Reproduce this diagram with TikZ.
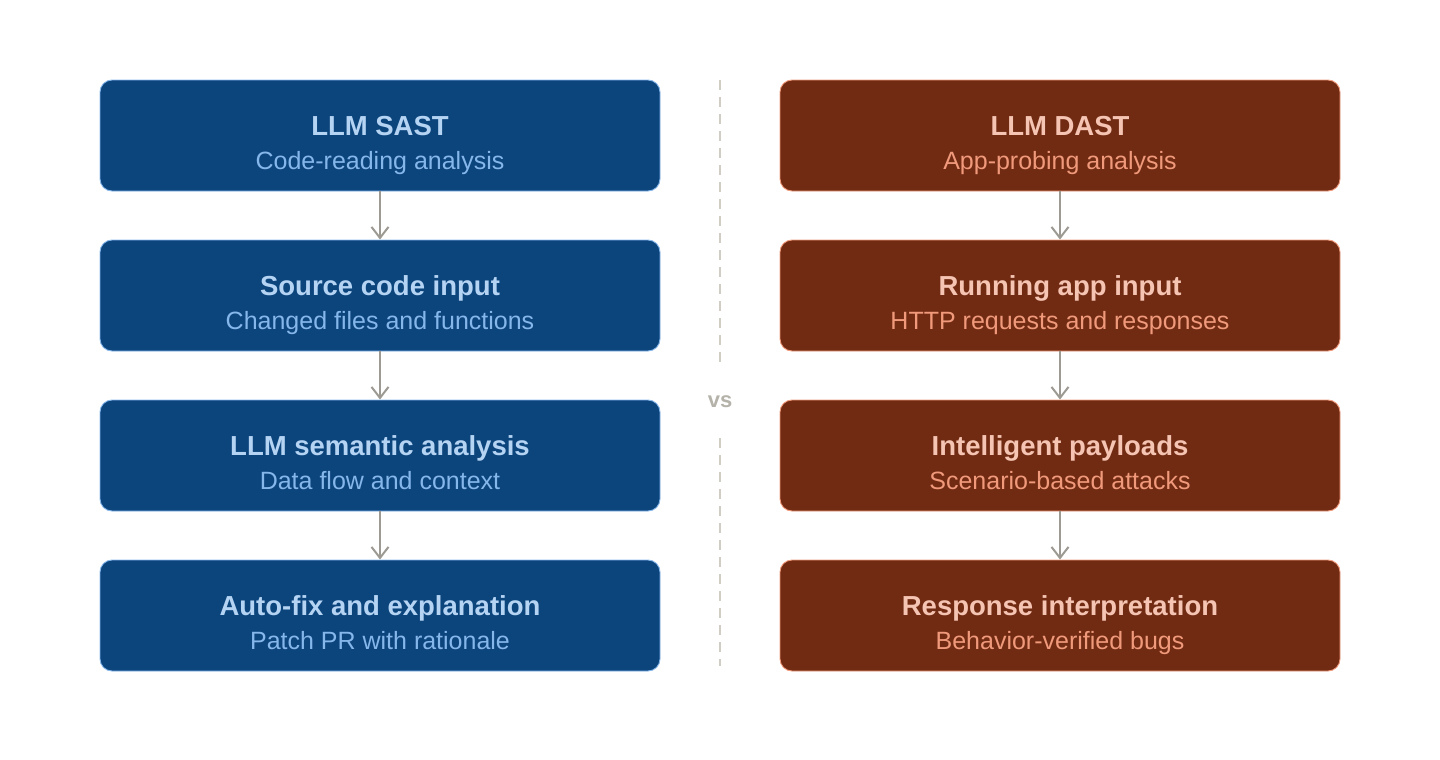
\documentclass[tikz,border=0pt]{standalone}
\usepackage{fontspec}
\setmainfont{Liberation Sans}
\usetikzlibrary{arrows.meta}
\definecolor{bfill}{HTML}{0C447C}
\definecolor{bline}{HTML}{85B7EB}
\definecolor{btitle}{HTML}{B5D4F4}
\definecolor{bsub}{HTML}{85B7EB}
\definecolor{rfill}{HTML}{712B13}
\definecolor{rline}{HTML}{F0997B}
\definecolor{rtitle}{HTML}{F5C4B3}
\definecolor{rsub}{HTML}{F0997B}
\definecolor{arrowc}{HTML}{9C9A92}
\definecolor{sepc}{HTML}{CFCDC4}
\definecolor{vsc}{HTML}{B4B2A9}
\tikzset{
  box/.style={rounded corners=12pt, minimum width=560pt, minimum height=111pt, line width=0.9pt, inner sep=0pt},
  bluebox/.style={box, fill=bfill, draw=bline},
  redbox/.style={box, fill=rfill, draw=rline},
  ttl/.style={font=\fontsize{27.5}{32}\selectfont\bfseries},
  sub/.style={font=\fontsize{25}{30}\selectfont},
  flow/.style={draw=arrowc, line width=2pt, -{Straight Barb[length=11pt,width=17pt,line width=2pt]}},
  sep/.style={draw=sepc, line width=1.2pt, dash pattern=on 10pt off 7pt},
}
\begin{document}
\begin{tikzpicture}[x=1pt,y=-1pt]
\useasboundingbox (0,0) rectangle (1440,760);
% left column
\foreach \n/\y/\t/\s in {a1/135.5/LLM SAST/Code-reading analysis, a2/295.5/Source code input/Changed files and functions, a3/455.5/LLM semantic analysis/Data flow and context, a4/615.5/Auto-fix and explanation/Patch PR with rationale}{
  \node[bluebox] (\n) at (380,\y) {};
  \node[ttl, text=btitle, anchor=base] (\n t) at (380,\y-0.5) {\t};
  \node[sub, text=bsub, anchor=base] (\n s) at (380,\y+34) {\s};
}
\foreach \n/\y/\t/\s in {b1/135.5/LLM DAST/App-probing analysis, b2/295.5/Running app input/HTTP requests and responses, b3/455.5/Intelligent payloads/Scenario-based attacks, b4/615.5/Response interpretation/Behavior-verified bugs}{
  \node[redbox] (\n) at (1060,\y) {};
  \node[ttl, text=rtitle, anchor=base] (\n t) at (1060,\y-0.5) {\t};
  \node[sub, text=rsub, anchor=base] (\n s) at (1060,\y+34) {\s};
}
\draw[flow] (a1.south) -- (a2.north);
\draw[flow] (a2.south) -- (a3.north);
\draw[flow] (a3.south) -- (a4.north);
\draw[flow] (b1.south) -- (b2.north);
\draw[flow] (b2.south) -- (b3.north);
\draw[flow] (b3.south) -- (b4.north);
% separator
\coordinate (s1) at (720,80);
\coordinate (s2) at (720,362);
\coordinate (s3) at (720,438);
\coordinate (s4) at (720,666);
\draw[sep] (s1) -- (s2);
\draw[sep] (s3) -- (s4);
\node[text=vsc, font=\fontsize{22}{26}\selectfont\bfseries] (vs) at (720,402) {vs};
\end{tikzpicture}
\end{document}
